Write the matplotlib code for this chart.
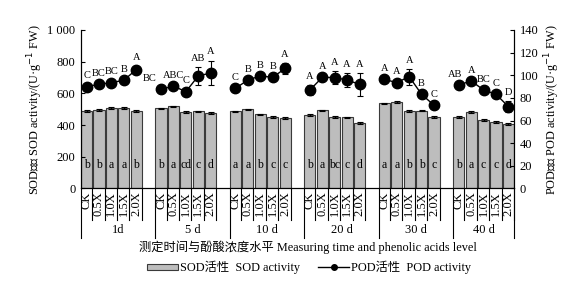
import matplotlib
matplotlib.use('Agg')
import matplotlib.pyplot as plt
import numpy as np
from matplotlib.lines import Line2D
from matplotlib.patches import Patch

plt.rcParams['font.family'] = ['Liberation Serif', 'Noto Sans CJK SC']
plt.rcParams['font.size'] = 8

# 测定时间与处理
days = ['1d', '5 d', '10 d', '20 d', '30 d', '40 d']
levels = ['CK', '0.5X', '1.0X', '1.5X', '2.0X']

# SOD 活性 (U·g-1 FW)
sod = [[490, 495, 508, 508, 490],
       [505, 518, 483, 486, 475],
       [486, 500, 467, 450, 443],
       [462, 494, 452, 448, 414],
       [538, 545, 488, 492, 452],
       [452, 481, 432, 420, 408]]
sod_err = [[6, 6, 4, 4, 6],
           [5, 4, 4, 4, 6],
           [5, 4, 6, 7, 7],
           [6, 4, 5, 6, 8],
           [4, 4, 6, 6, 6],
           [6, 5, 5, 6, 6]]
sod_sig = [['b', 'b', 'a', 'a', 'b'],
           ['b', 'a', 'cd', 'c', 'd'],
           ['a', 'a', 'b', 'c', 'c'],
           ['b', 'a', 'bc', 'c', 'd'],
           ['a', 'a', 'b', 'b', 'c'],
           ['b', 'a', 'c', 'c', 'd']]

# POD 活性
pod = [[90, 92, 93.5, 95.6, 105],
       [87.6, 90.5, 85.5, 99.4, 102],
       [88.5, 95.8, 99.4, 98.2, 106],
       [87, 98.2, 98, 95.8, 92],
       [96.4, 93.5, 98.8, 83.2, 73.5],
       [91.4, 95, 87, 83.2, 72.3]]
pod_err = [[2, 2, 2, 2, 3],
           [2, 2, 2, 8, 11],
           [2, 2, 2, 2, 5],
           [4, 2, 6, 6, 10],
           [2, 2, 7, 2, 2],
           [2, 2, 2, 2, 5]]
pod_sig = [['C', 'BC', 'BC', 'B', 'A'],
           ['BC', 'ABC', 'C', 'AB', 'A'],
           ['C', 'B', 'B', 'B', 'A'],
           ['A', 'A', 'A', 'A', 'A'],
           ['A', 'A', 'A', 'B', 'C'],
           ['AB', 'A', 'BC', 'C', 'D']]

# 标注偏移（避免重叠）
label_shift = {(1, 0): -8, (5, 0): -3}

fig = plt.figure(figsize=(5.76, 2.83), dpi=100)
ax = fig.add_axes([0.1406, 0.334, 0.7518, 0.56])
ax2 = ax.twinx()

w = 0.9
xlo, xhi = -w / 2, 34 + w / 2
all_x = []
for g in range(6):
    xs = np.arange(5) + 6 * g
    all_x.extend(xs)
    ax.bar(xs, sod[g], width=w, color='#bdbdbd', edgecolor='#3a3a3a', linewidth=0.8,
           yerr=sod_err[g], error_kw=dict(ecolor='black', elinewidth=0.8, capsize=2, capthick=0.8))
    for x, s in zip(xs, sod_sig[g]):
        ax.text(x, 150, s, ha='center', va='center', fontsize=8.5)
    ax2.errorbar(xs, pod[g], yerr=pod_err[g], color='black', marker='o', markersize=7.5,
                 linewidth=1, elinewidth=0.8, capsize=2, capthick=0.8)
    for i, (x, y, e, s) in enumerate(zip(xs, pod[g], pod_err[g], pod_sig[g])):
        dx = label_shift.get((g, i), 0)
        ax2.annotate(s, (x, y + e), xytext=(dx, 3), textcoords='offset points',
                     ha='center', va='bottom', fontsize=7.5)

ax.set_xlim(xlo, xhi)
ax.set_ylim(0, 1000)
ax2.set_ylim(0, 140)
ax.set_yticks(range(0, 1001, 200))
ax.set_yticklabels(['0', '200', '400', '600', '800', '1 000'])
ax2.set_yticks(range(0, 141, 20))
ax.set_xticks(all_x)
ax.set_xticklabels(levels * 6, rotation=90, va='top', fontsize=9)
ax.tick_params(axis='x', length=0, pad=2)
ax.tick_params(axis='y', direction='in', length=3, labelsize=9, pad=4)
ax2.tick_params(axis='y', direction='in', length=3, labelsize=9, pad=4)
for a in (ax, ax2):
    a.spines['top'].set_visible(False)

# 表格式分隔线
tr = ax.get_xaxis_transform()
for g in range(6):
    for i in range(5):
        xr = 6 * g + i + w / 2
        ax.plot([xr, xr], [0, -0.2], transform=tr, color='black', lw=0.8, clip_on=False)
    xl = 6 * g - w / 2
    ax.plot([xl, xl], [0, -0.31], transform=tr, color='black', lw=0.8, clip_on=False)
    xnext = 6 * (g + 1) - w / 2 if g < 5 else xhi
    ax.text((xl + xnext) / 2, -0.26, days[g], transform=tr, ha='center', va='center', fontsize=9)
ax.plot([xhi, xhi], [0, -0.31], transform=tr, color='black', lw=0.8, clip_on=False)

fig.text(0.535, 0.128, '测定时间与酚酸浓度水平 Measuring time and phenolic acids level',
         ha='center', va='center', fontsize=8.8)
ax.set_ylabel('SOD活性 SOD activity/(U·g$^{-1}$ FW)', fontsize=8.8, labelpad=2)
ax2.set_ylabel('POD活性 POD activity/(U·g$^{-1}$ FW)', fontsize=8.8, rotation=90, labelpad=3)

handles = [Patch(facecolor='#bdbdbd', edgecolor='#3a3a3a', linewidth=0.8),
           Line2D([], [], color='black', marker='o', markersize=4, lw=1)]
fig.legend(handles, ['SOD活性  SOD activity', 'POD活性  POD activity'], ncol=2,
           loc='center', bbox_to_anchor=(0.537, 0.055), frameon=False, fontsize=8.8,
           handlelength=2.5, handleheight=0.4, columnspacing=1.5, handletextpad=0.2)

fig.savefig('out.png', dpi=100)
